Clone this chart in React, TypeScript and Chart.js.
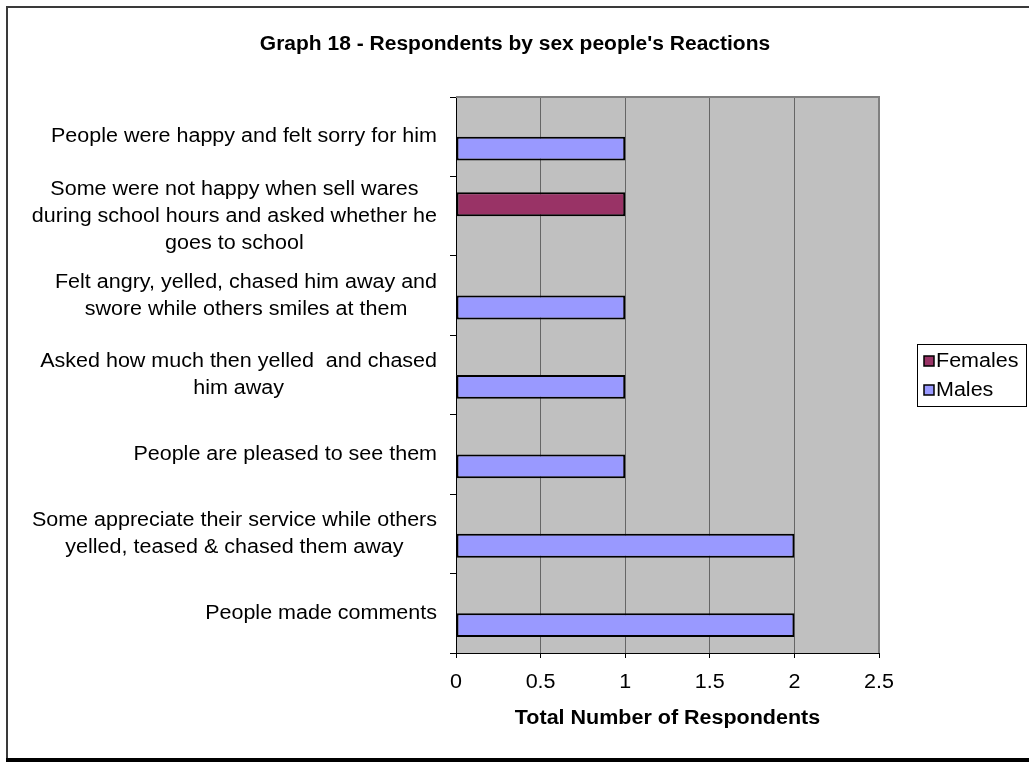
import React, { useEffect, useRef } from "react";
import { Chart, registerables } from "chart.js";

Chart.register(...registerables);

// ---------- data ----------
const categories: string[][] = [
  ["People were happy and felt sorry for him"],
  ["Some were not happy when sell wares", "during school hours and asked whether he", "goes to school"],
  ["Felt angry, yelled, chased him away and", "swore while others smiles at them"],
  ["Asked how much then yelled  and chased", "him away"],
  ["People are pleased to see them"],
  ["Some appreciate their service while others", "yelled, teased & chased them away"],
  ["People made comments"],
];
const seriesNames = ["Females", "Males"];
const femalesValues = [0, 1, 0, 0, 0, 0, 0];
const malesValues = [1, 0, 1, 1, 1, 2, 2];
const xTickValues = [0, 0.5, 1, 1.5, 2, 2.5];
const xTickLabels = ["0", "0.5", "1", "1.5", "2", "2.5"];
const chartTitle = "Graph 18 - Respondents by sex people's Reactions";
const xAxisTitle = "Total Number of Respondents";

// ---------- styles ----------
const FEMALE_COLOR = "#993366";
const MALE_COLOR = "#9999FF";
const PLOT_BG = "#C0C0C0";
const FAMILY = '"Liberation Sans", Arial, sans-serif';
const SX = 1.075;

function drawText(
  ctx: CanvasRenderingContext2D,
  text: string,
  x: number,
  y: number,
  align: "left" | "center" | "right",
  font: string,
  sx: number
) {
  ctx.save();
  ctx.font = font;
  ctx.textBaseline = "middle";
  ctx.textAlign = "left";
  const w = ctx.measureText(text).width * sx;
  let left = x;
  if (align === "center") left = x - w / 2;
  else if (align === "right") left = x - w;
  ctx.translate(left, y);
  ctx.scale(sx, 1);
  ctx.fillStyle = "#000";
  ctx.fillText(text, 0, 0);
  ctx.restore();
}

function measure(ctx: CanvasRenderingContext2D, text: string, font: string, sx: number) {
  ctx.save();
  ctx.font = font;
  const w = ctx.measureText(text).width * sx;
  ctx.restore();
  return w;
}

const decorPlugin = {
  id: "excelDecor",
  beforeDraw(chart: any) {
    const ctx: CanvasRenderingContext2D = chart.ctx;
    const { left, top, right, bottom } = chart.chartArea;
    ctx.save();
    ctx.fillStyle = "#fff";
    ctx.fillRect(0, 0, chart.width, chart.height);
    // outer frame
    ctx.fillStyle = "#3a3a3a";
    ctx.fillRect(6, 6, chart.width, 2);
    ctx.fillRect(6, 6, 2, 753);
    ctx.fillStyle = "#000";
    ctx.fillRect(6, 758, chart.width, 4);
    // plot background
    ctx.fillStyle = PLOT_BG;
    ctx.fillRect(left, top, right - left, bottom - top);
    ctx.restore();
  },
  beforeDatasetsDraw(chart: any) {
    const ctx: CanvasRenderingContext2D = chart.ctx;
    const { left, top, right, bottom } = chart.chartArea;
    ctx.save();
    ctx.strokeStyle = "#808080";
    ctx.lineWidth = 2;
    ctx.beginPath();
    ctx.moveTo(left, top);
    ctx.lineTo(right, top);
    ctx.lineTo(right, bottom);
    ctx.stroke();
    ctx.restore();
  },
  afterDraw(chart: any) {
    const ctx: CanvasRenderingContext2D = chart.ctx;
    const xScale = chart.scales.x;
    const yScale = chart.scales.y;
    const { left, right, bottom } = chart.chartArea;
    const normal = `20px ${FAMILY}`;
    const bold = `bold 20px ${FAMILY}`;

    // title
    drawText(ctx, chartTitle, 515, 44, "center", bold, 1.05);

    // y category labels: block right-aligned, lines centred
    const labels = chart.data.labels as string[][];
    const lineH = 27;
    labels.forEach((lines, i) => {
      const cy = yScale.getPixelForTick(i);
      let maxW = 0;
      lines.forEach((l) => (maxW = Math.max(maxW, measure(ctx, l, normal, SX))));
      const cx = 437 - maxW / 2;
      lines.forEach((l, j) => {
        const y = cy + (j - (lines.length - 1) / 2) * lineH;
        drawText(ctx, l, cx, y, "center", normal, SX);
      });
    });

    // x tick labels
    xTickValues.forEach((v, i) => {
      drawText(ctx, xTickLabels[i], xScale.getPixelForValue(v), bottom + 29, "center", normal, SX);
    });

    // x axis title
    drawText(ctx, xAxisTitle, (left + right) / 2, 718, "center", bold, SX);

    // legend
    const lx = 917.5, ly = 344.5, lw = 109, lh = 62;
    ctx.save();
    ctx.fillStyle = "#fff";
    ctx.fillRect(lx, ly, lw, lh);
    ctx.strokeStyle = "#000";
    ctx.lineWidth = 1;
    ctx.strokeRect(lx, ly, lw, lh);
    const colors = [FEMALE_COLOR, MALE_COLOR];
    const rows = [361, 390];
    seriesNames.forEach((name, i) => {
      ctx.fillStyle = colors[i];
      ctx.fillRect(924, rows[i] - 5, 10, 10);
      ctx.strokeStyle = "#000";
      ctx.lineWidth = 1.5;
      ctx.strokeRect(924, rows[i] - 5, 10, 10);
      drawText(ctx, name, 936, rows[i], "left", normal, SX);
    });
    ctx.restore();
  },
};

export default function App() {
  const ref = useRef<HTMLCanvasElement>(null);

  useEffect(() => {
    const canvas = ref.current;
    if (!canvas) return;
    const chart = new Chart(canvas, {
      type: "bar",
      data: {
        labels: categories as any,
        datasets: [
          {
            label: seriesNames[0],
            data: femalesValues,
            backgroundColor: FEMALE_COLOR,
            borderColor: "#000",
            borderWidth: 2,
            borderSkipped: false,
            categoryPercentage: 0.6,
            barPercentage: 1.0,
          },
          {
            label: seriesNames[1],
            data: malesValues,
            backgroundColor: MALE_COLOR,
            borderColor: "#000",
            borderWidth: 2,
            borderSkipped: false,
            categoryPercentage: 0.6,
            barPercentage: 1.0,
          },
        ],
      },
      options: {
        indexAxis: "y",
        animation: false,
        responsive: false,
        devicePixelRatio: 1,
        events: [],
        layout: { padding: { left: 456, right: 150, top: 97, bottom: 109 } },
        plugins: {
          legend: { display: false },
          title: { display: false },
          tooltip: { enabled: false },
        },
        scales: {
          x: {
            type: "linear",
            min: xTickValues[0],
            max: xTickValues[xTickValues.length - 1],
            ticks: { display: false, stepSize: xTickValues[1] - xTickValues[0] },
            grid: {
              display: true,
              drawOnChartArea: true,
              drawTicks: true,
              tickLength: 5,
              color: "#666",
              tickColor: "#000",
              lineWidth: 1,
            },
            border: { display: true, color: "#000", width: 1 },
            afterFit: (s: any) => {
              s.height = 0;
            },
          },
          y: {
            type: "category",
            ticks: { display: false },
            grid: {
              display: true,
              drawOnChartArea: false,
              drawTicks: true,
              tickLength: 6,
              offset: true,
              color: "#000",
              tickColor: "#000",
            },
            border: { display: true, color: "#000", width: 1 },
            afterFit: (s: any) => {
              s.width = 0;
            },
          },
        },
      },
      plugins: [decorPlugin],
    } as any);
    return () => chart.destroy();
  }, []);

  return (
    <div style={{ position: "fixed", left: 0, top: 0, width: 1029, height: 762, background: "#fff" }}>
      <canvas ref={ref} width={1029} height={762} style={{ display: "block", width: 1029, height: 762 }} />
    </div>
  );
}
